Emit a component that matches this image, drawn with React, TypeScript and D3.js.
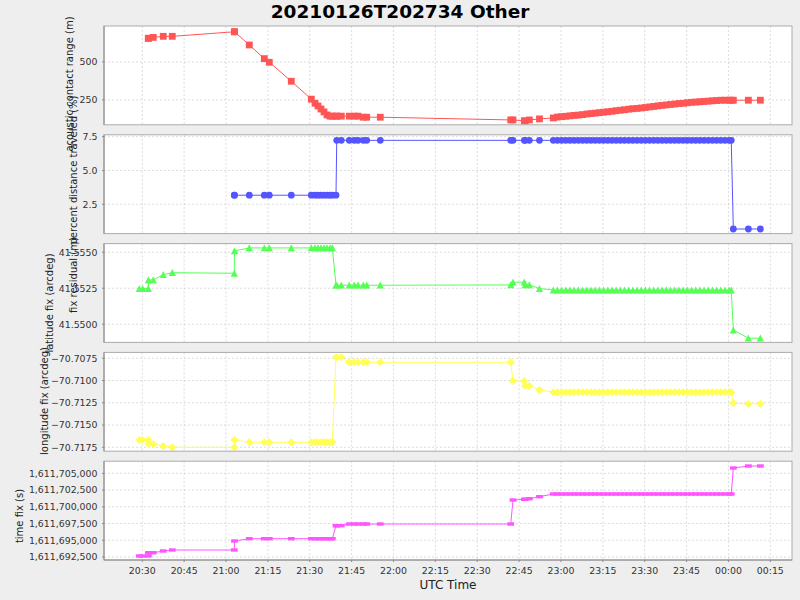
import React from "react";
import * as d3 from "d3";

// ---------------- data ----------------
const fixTimes = [
  "20:28:56", "20:30:08", "20:32:09", "20:32:12", "20:33:56", "20:37:31", "20:40:45",
  "21:02:58", "21:03:02", "21:08:20", "21:13:43", "21:15:30", "21:23:23", "21:30:33",
  "21:31:53", "21:32:57", "21:34:02", "21:35:06", "21:36:11", "21:37:15", "21:38:05",
  "21:39:24", "21:39:40", "21:41:18", "21:44:10", "21:45:58", "21:47:17", "21:49:11",
  "21:50:24", "21:55:16", "22:42:00", "22:42:49", "22:46:52", "22:47:10", "22:48:40",
  "22:52:18",
  "22:57:15", "22:58:45", "23:00:15", "23:01:45", "23:03:15", "23:04:45", "23:06:15",
  "23:07:45", "23:09:15", "23:10:45", "23:12:15", "23:13:45", "23:15:15", "23:16:45",
  "23:18:15", "23:19:45", "23:21:15", "23:22:45", "23:24:15", "23:25:45", "23:27:15",
  "23:28:45", "23:30:15", "23:31:45", "23:33:15", "23:34:45", "23:36:15", "23:37:45",
  "23:39:15", "23:40:45", "23:42:15", "23:43:45", "23:45:15", "23:46:45", "23:48:15",
  "23:49:45", "23:51:15", "23:52:45", "23:54:15", "23:55:45", "23:57:15", "23:58:45",
  "00:00:15", "00:01:00",
  "00:01:45", "00:07:08", "00:11:26",
];

const contactRange: (number | null)[] = [
  null, null, 656, 656, 662, 669, 669,
  699, 699, 612, 522, 498, 373, 255,
  228, 210, 190, 171, 151, 143, 143,
  143, 143, 143, 143, 143, 143, 136,
  136, 136, 118, 118, 112, 112, 118,
  125,
  131, 137, 140, 142, 145, 148, 150,
  153, 157, 160, 163, 166, 169, 172,
  175, 179, 182, 185, 189, 192, 194,
  197, 200, 204, 207, 211, 214, 217,
  220, 223, 226, 228, 231, 234, 236,
  238, 240, 242, 244, 246, 248, 248,
  248, 248,
  248, 248, 248,
];

const percentTraveled: (number | null)[] = [
  null, null, null, null, null, null, null,
  3.17, 3.17, 3.17, 3.17, 3.17, 3.17, 3.17,
  3.17, 3.17, 3.17, 3.17, 3.17, 3.17, 3.17,
  3.17, 7.23, 7.23, 7.23, 7.23, 7.23, 7.23,
  7.23, 7.23, 7.23, 7.23, 7.23, 7.23, 7.23,
  7.23,
  7.23, 7.23, 7.23, 7.23, 7.23, 7.23, 7.23,
  7.23, 7.23, 7.23, 7.23, 7.23, 7.23, 7.23,
  7.23, 7.23, 7.23, 7.23, 7.23, 7.23, 7.23,
  7.23, 7.23, 7.23, 7.23, 7.23, 7.23, 7.23,
  7.23, 7.23, 7.23, 7.23, 7.23, 7.23, 7.23,
  7.23, 7.23, 7.23, 7.23, 7.23, 7.23, 7.23,
  7.23, 7.23,
  0.67, 0.67, 0.67,
];

const latitudeFix: number[] = [
  41.55248, 41.55248, 41.55248, 41.55308, 41.55308, 41.55344, 41.55358,
  41.55354, 41.55509, 41.5553, 41.5553, 41.5553, 41.5553, 41.5553,
  41.5553, 41.5553, 41.5553, 41.5553, 41.5553, 41.5553, 41.5553,
  41.55271, 41.55271, 41.55271, 41.55271, 41.55271, 41.55271, 41.55271,
  41.55271, 41.55271, 41.55273, 41.55292, 41.55292, 41.55273, 41.55273,
  41.55248,
  41.55238, 41.55238, 41.55238, 41.55238, 41.55238, 41.55238, 41.55238,
  41.55238, 41.55238, 41.55238, 41.55238, 41.55238, 41.55238, 41.55238,
  41.55238, 41.55238, 41.55238, 41.55238, 41.55238, 41.55238, 41.55238,
  41.55238, 41.55238, 41.55238, 41.55238, 41.55238, 41.55238, 41.55238,
  41.55238, 41.55238, 41.55238, 41.55238, 41.55238, 41.55238, 41.55238,
  41.55238, 41.55238, 41.55238, 41.55238, 41.55238, 41.55238, 41.55238,
  41.55238, 41.55238,
  41.5496, 41.54903, 41.54903,
];

const longitudeFix: number[] = [
  -70.71668, -70.71668, -70.71668, -70.71713, -70.71713, -70.71735, -70.7175,
  -70.7175, -70.71668, -70.71694, -70.71694, -70.71694, -70.71694, -70.71694,
  -70.71694, -70.71694, -70.71694, -70.71694, -70.71694, -70.71694, -70.71694,
  -70.70739, -70.70739, -70.70739, -70.70795, -70.70795, -70.70795, -70.70795,
  -70.70795, -70.70795, -70.70795, -70.71005, -70.71005, -70.71058, -70.71058,
  -70.71106,
  -70.71132, -70.71132, -70.71132, -70.71132, -70.71132, -70.71132, -70.71132,
  -70.71132, -70.71132, -70.71132, -70.71132, -70.71132, -70.71132, -70.71132,
  -70.71132, -70.71132, -70.71132, -70.71132, -70.71132, -70.71132, -70.71132,
  -70.71132, -70.71132, -70.71132, -70.71132, -70.71132, -70.71132, -70.71132,
  -70.71132, -70.71132, -70.71132, -70.71132, -70.71132, -70.71132, -70.71132,
  -70.71132, -70.71132, -70.71132, -70.71132, -70.71132, -70.71132, -70.71132,
  -70.71132, -70.71132,
  -70.71256, -70.71263, -70.71263,
];

const timeFix: number[] = [
  1611692649, 1611692649, 1611692649, 1611693142, 1611693142, 1611693396, 1611693546,
  1611693546, 1611694890, 1611695234, 1611695234, 1611695234, 1611695234, 1611695234,
  1611695234, 1611695234, 1611695234, 1611695234, 1611695234, 1611695234, 1611695234,
  1611697176, 1611697176, 1611697176, 1611697430, 1611697430, 1611697430, 1611697430,
  1611697430, 1611697430, 1611697430, 1611701016, 1611701120, 1611701120, 1611701210,
  1611701509,
  1611701912, 1611701912, 1611701912, 1611701912, 1611701912, 1611701912, 1611701912,
  1611701912, 1611701912, 1611701912, 1611701912, 1611701912, 1611701912, 1611701912,
  1611701912, 1611701912, 1611701912, 1611701912, 1611701912, 1611701912, 1611701912,
  1611701912, 1611701912, 1611701912, 1611701912, 1611701912, 1611701912, 1611701912,
  1611701912, 1611701912, 1611701912, 1611701912, 1611701912, 1611701912, 1611701912,
  1611701912, 1611701912, 1611701912, 1611701912, 1611701912, 1611701912, 1611701912,
  1611701912, 1611701912,
  1611705797, 1611706095, 1611706095,
];

const rangeTicks = [250, 500];
const percentTicks = [2.5, 5.0, 7.5];
const latitudeTicks = [41.55, 41.5525, 41.555];
const longitudeTicks = [-70.7175, -70.715, -70.7125, -70.71, -70.7075];
const timeFixTicks = [1611692500, 1611695000, 1611697500, 1611700000, 1611702500, 1611705000];

const titleText = "20210126T202734 Other";
const xAxisLabel = "UTC Time";

// ---------------- layout ----------------
const W = 800;
const H = 600;
const PL = 104;
const PR = 792;
const PANEL_TOP = 26;
const PANEL_H = 98.8;
const PANEL_GAP = 10;
const FONT = "'DejaVu Sans', sans-serif";

function parseTime(s: string): Date {
  const [h, m, sec] = s.split(":").map(Number);
  const day = h < 12 ? 27 : 26;
  return new Date(Date.UTC(2021, 0, day, h, m, sec));
}

const dates = fixTimes.map(parseTime);

const xScale = d3
  .scaleUtc()
  .domain([new Date(Date.UTC(2021, 0, 26, 20, 16, 17)), new Date(Date.UTC(2021, 0, 27, 0, 22, 46))])
  .range([PL, PR]);

const xTicks = xScale.ticks(d3.utcMinute.every(15) as any);
const xFmt = d3.utcFormat("%H:%M");

type Shape = "square" | "circle" | "triangle" | "diamond" | "hrect";

const panels = [
  {
    values: contactRange, color: "#FF5555", shape: "square" as Shape,
    domain: [86, 737], ticks: rangeTicks, fmt: d3.format(",d"),
    labels: [{ text: "acoustic contact range (m)", x: 73, cy: 84 }],
  },
  {
    values: percentTraveled, color: "#5555FF", shape: "circle" as Shape,
    domain: [0.33, 7.64], ticks: percentTicks, fmt: d3.format(".1f"),
    labels: [{ text: "percent distance traveled (%)", x: 77, cy: 170 }],
  },
  {
    values: latitudeFix, color: "#55FF55", shape: "triangle" as Shape,
    domain: [41.54874, 41.5556], ticks: latitudeTicks, fmt: d3.format(".4f"),
    labels: [
      { text: "fix residual (m)", x: 77, cy: 275 },
      { text: "latitude fix (arcdeg)", x: 53, cy: 303 },
    ],
  },
  {
    values: longitudeFix, color: "#FFFF55", shape: "diamond" as Shape,
    domain: [-70.71794, -70.70684], ticks: longitudeTicks, fmt: d3.format(".4f"),
    labels: [{ text: "longitude fix (arcdeg)", x: 48, cy: 401 }],
  },
  {
    values: timeFix, color: "#FF55FF", shape: "hrect" as Shape,
    domain: [1611692052, 1611706813], ticks: timeFixTicks, fmt: d3.format(",d"),
    labels: [{ text: "time fix (s)", x: 23, cy: 516 }],
  },
];

function Marker({ shape, x, y, color }: { shape: Shape; x: number; y: number; color: string }) {
  switch (shape) {
    case "square":
      return <rect x={x - 3.4} y={y - 3.4} width={6.8} height={6.8} fill={color} />;
    case "circle":
      return <circle cx={x} cy={y} r={3.4} fill={color} />;
    case "triangle":
      return <path d={`M${x},${y - 3.6}L${x + 3.6},${y + 3.4}L${x - 3.6},${y + 3.4}Z`} fill={color} />;
    case "diamond":
      return <path d={`M${x},${y - 4}L${x + 4},${y}L${x},${y + 4}L${x - 4},${y}Z`} fill={color} />;
    default:
      return <rect x={x - 3.4} y={y - 1.7} width={6.8} height={3.4} fill={color} />;
  }
}

function Panel({ p, i }: { p: (typeof panels)[number]; i: number }) {
  const top = PANEL_TOP + i * (PANEL_H + PANEL_GAP);
  const bottom = top + PANEL_H;
  const y = d3.scaleLinear().domain(p.domain).range([bottom, top]);
  const pts = dates
    .map((d, k) => ({ d, v: p.values[k] }))
    .filter((o) => o.v !== null && o.v !== undefined) as { d: Date; v: number }[];
  const line = d3
    .line<{ d: Date; v: number }>()
    .x((o) => xScale(o.d))
    .y((o) => y(o.v));
  const clipId = `clip${i}`;
  return (
    <g>
      <defs>
        <clipPath id={clipId}>
          <rect x={PL} y={top} width={PR - PL} height={PANEL_H} />
        </clipPath>
      </defs>
      <rect x={PL} y={top} width={PR - PL} height={PANEL_H} fill="#FFFFFF" />
      {xTicks.map((t, k) => (
        <line key={"vx" + k} x1={xScale(t)} x2={xScale(t)} y1={top} y2={bottom}
          stroke="#c4c4c4" strokeWidth={0.6} strokeDasharray="2,2" />
      ))}
      {p.ticks.map((t, k) => (
        <line key={"hy" + k} x1={PL} x2={PR} y1={y(t)} y2={y(t)}
          stroke="#c4c4c4" strokeWidth={0.6} strokeDasharray="2,2" />
      ))}
      <g clipPath={`url(#${clipId})`}>
        <path d={line(pts) || ""} fill="none" stroke={p.color} strokeWidth={1} />
        {pts.map((o, k) => (
          <Marker key={k} shape={p.shape} x={xScale(o.d)} y={y(o.v)} color={p.color} />
        ))}
      </g>
      <rect x={PL} y={top} width={PR - PL} height={PANEL_H} fill="none" stroke="#ababab" strokeWidth={1} />
      <line x1={PL} x2={PL} y1={top} y2={bottom} stroke="#8a8a8a" strokeWidth={1} />
      {p.ticks.map((t, k) => (
        <g key={"yt" + k}>
          <line x1={PL - 2} x2={PL} y1={y(t)} y2={y(t)} stroke="#8a8a8a" strokeWidth={1} />
          <text x={PL - 6.5} y={y(t)} dy="0.35em" textAnchor="end" fontSize={9.4}
            fontFamily={FONT} fill="#333">
            {p.fmt(t)}
          </text>
        </g>
      ))}
      {p.labels.map((l, k) => (
        <text key={"lb" + k} transform={`translate(${l.x},${l.cy}) rotate(-90)`} textAnchor="middle"
          fontSize={10} fontFamily={FONT} fill="#222">
          {l.text}
        </text>
      ))}
    </g>
  );
}

export default function App() {
  const lastBottom = PANEL_TOP + 4 * (PANEL_H + PANEL_GAP) + PANEL_H;
  return (
    <svg width={W} height={H} style={{ position: "absolute", left: 0, top: 0, display: "block" }}>
      <rect x={0} y={0} width={W} height={H} fill="#EEEEEE" />
      <text x={400} y={18} textAnchor="middle" fontSize={18.5} fontWeight="bold" fontFamily={FONT} fill="#000">
        {titleText}
      </text>
      {panels.map((p, i) => (
        <Panel key={i} p={p} i={i} />
      ))}
      <line x1={PL} x2={PR} y1={lastBottom} y2={lastBottom} stroke="#8a8a8a" strokeWidth={1} />
      {xTicks.map((t, k) => (
        <g key={"xt" + k}>
          <line x1={xScale(t)} x2={xScale(t)} y1={lastBottom} y2={lastBottom + 2} stroke="#8a8a8a" />
          <text x={xScale(t)} y={574} textAnchor="middle" fontSize={9.4} fontFamily={FONT} fill="#333">
            {xFmt(t)}
          </text>
        </g>
      ))}
      <text x={(PL + PR) / 2} y={589} textAnchor="middle" fontSize={12} fontFamily={FONT} fill="#222">
        {xAxisLabel}
      </text>
    </svg>
  );
}
